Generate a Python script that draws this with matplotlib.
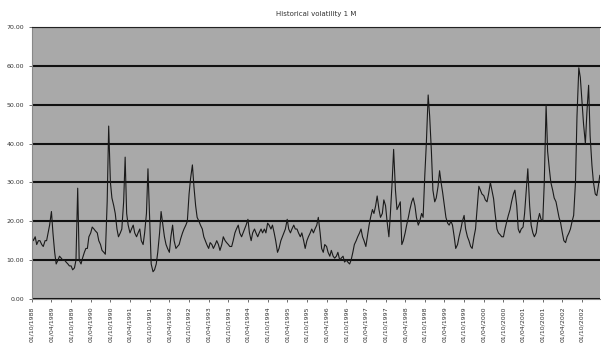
import matplotlib
matplotlib.use("Agg")
import matplotlib.pyplot as plt
import pandas as pd

# Semi-monthly 1M historical volatility, one row per year starting Oct 1988
vol_1988 = [16, 15, 16, 14, 15, 15, 14, 13.5, 15, 15, 17, 19, 22.5, 17, 12, 9, 10, 11, 10.5, 10, 10, 9.5, 9, 8.5]
vol_1989 = [8.5, 7.5, 8, 10, 28.5, 10, 9, 10.5, 12, 13, 13, 16, 17, 18.5, 18, 17.5, 17, 15, 14, 12.5, 12, 11.5, 25, 44.5]
vol_1990 = [30, 26, 24, 22, 18, 16, 17, 18, 25, 36.5, 22, 19, 17, 18, 19, 17, 16, 17, 18, 15, 14, 17, 22, 33.5]
vol_1991 = [20, 9, 7, 7.5, 9, 12, 17, 22.5, 19, 16, 14, 13, 12, 16, 19, 15, 13, 13.5, 14, 15.5, 17, 18, 19, 20]
vol_1992 = [27, 31, 34.5, 29, 24, 21, 20, 19, 18, 16, 15, 14, 13, 14.5, 14, 13, 14, 15, 14, 12.5, 14, 16, 15, 14.5]
vol_1993 = [14, 13.5, 13.5, 15, 17, 18, 19, 17, 16, 17, 18, 19, 20.5, 17, 15, 17, 18, 17, 16, 17, 18, 17, 18, 17]
vol_1994 = [19.5, 19, 18, 19, 17, 15, 12, 13, 15, 16, 17, 18, 20.5, 18, 17, 18, 19, 18, 18, 17, 16, 17, 15, 13]
vol_1995 = [15, 16, 17, 18, 17, 18, 19, 21, 17, 13, 12, 14, 13.5, 12, 11, 12.5, 11, 10.5, 11, 12, 10, 10.5, 11, 9.5]
vol_1996 = [10, 9.5, 9, 10, 12, 14, 15, 16, 17, 18, 16, 15, 13.5, 16, 19, 21, 23, 22, 24, 26.5, 23, 21, 22, 25.5]
vol_1997 = [24, 20, 16, 22, 30, 38.5, 28, 23, 24, 25, 14, 15, 17, 19, 21, 23, 25, 26, 24, 21, 19, 20, 22, 21]
vol_1998 = [32, 40, 52.5, 47, 38, 28, 25, 26, 29, 33, 30, 27.5, 24, 21, 19.5, 19, 20, 19, 16, 13, 14, 16, 18, 20]
vol_1999 = [21.5, 18, 16, 15, 13.5, 13, 16, 18, 24, 29, 28, 27, 26.6, 25.5, 25, 27, 30, 28, 25.8, 22, 18, 17, 16.5, 16]
vol_2000 = [16, 18, 20, 21.5, 23, 25, 27, 28, 24, 18, 17, 18, 18.5, 22, 28, 33.5, 24, 19, 17, 16, 17, 20, 22, 20.5]
vol_2001 = [20, 30, 50, 38, 33.5, 30, 28, 26, 25, 23, 21, 19.7, 17, 15, 14.5, 16, 17, 18, 20, 21.5, 30, 47, 59.5, 57]
vol_2002 = [50.8, 45, 40, 48, 55, 42, 34.4, 30, 27, 26.6, 29, 31.8]

vol = (vol_1988 + vol_1989 + vol_1990 + vol_1991 + vol_1992 + vol_1993 + vol_1994
       + vol_1995 + vol_1996 + vol_1997 + vol_1998 + vol_1999 + vol_2000 + vol_2001 + vol_2002)
dates = pd.date_range("1988-10-01", periods=len(vol), freq="SMS")

y_ticks = [0, 10, 20, 30, 40, 50, 60, 70]

fig = plt.figure(figsize=(6.01, 3.46), dpi=100)
ax = fig.add_axes([0.053, 0.136, 0.945, 0.786])
ax.set_facecolor("#a9a9a9")

ax.plot(dates, vol, color="#1a1a1a", linewidth=0.8)

ax.set_ylim(0, 70)
ax.set_yticks(y_ticks)
ax.set_yticklabels(["%.2f" % v for v in y_ticks])
ax.yaxis.grid(True, color="#111111", linewidth=1.5)
ax.set_axisbelow(True)

# one date label every six months
tick_dates = dates[::12]
ax.set_xticks(tick_dates)
ax.set_xticklabels([d.strftime("%d/%m/%Y") for d in tick_dates], rotation=90)
ax.set_xlim(dates[0], dates[-1])

ax.tick_params(axis="both", labelsize=4.5, colors="#333333", length=2, width=0.5)
ax.spines["right"].set_visible(False)
ax.spines["top"].set_color("#222222")
ax.spines["left"].set_color("#888888")
ax.spines["bottom"].set_color("#888888")

ax.set_title("Historical volatility 1 M", fontsize=5, color="#333333", pad=8)

fig.savefig("out.png", dpi=100)
